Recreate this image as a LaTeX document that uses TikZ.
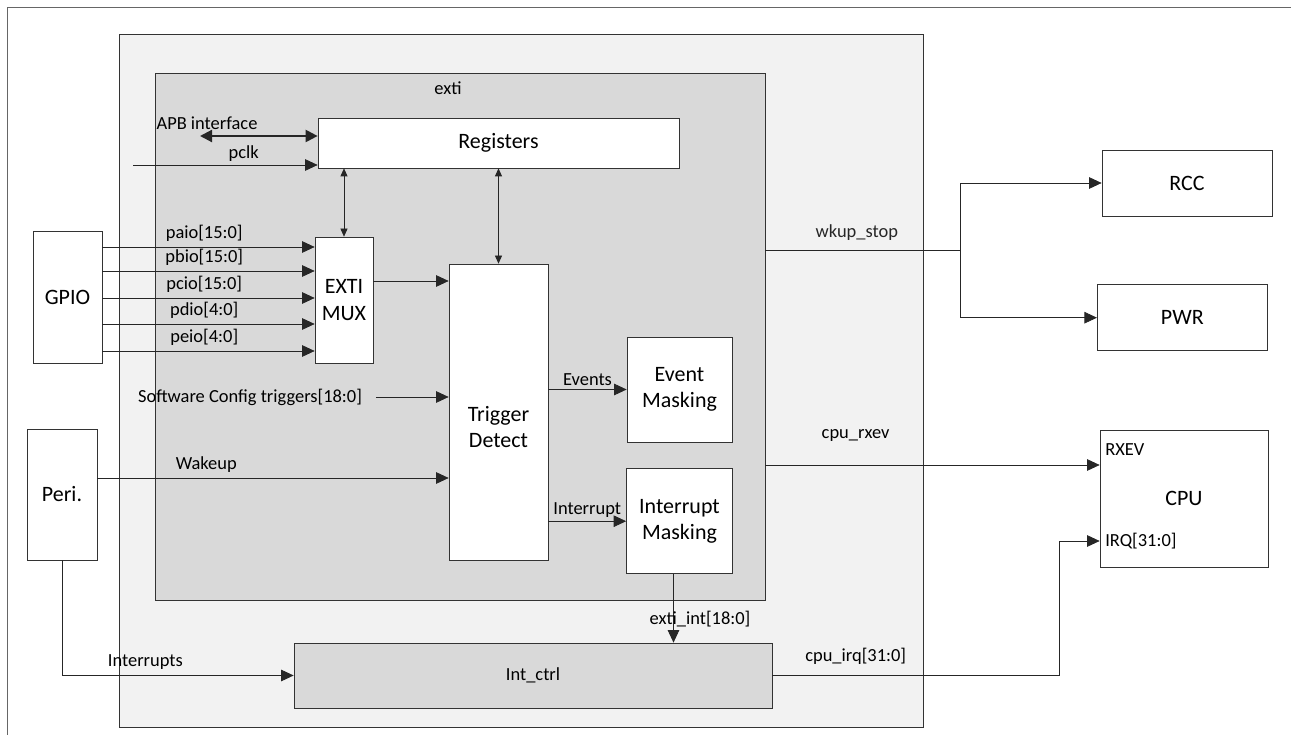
\documentclass[tikz,border=0pt]{standalone}
\usepackage{fontspec}
\setmainfont{Carlito}
\usetikzlibrary{positioning, arrows.meta}

\begin{document}
\begin{tikzpicture}[
		box/.style={rectangle, draw=black!80, fill=white, align=center, inner sep=1pt, font=\fontsize{12.5}{15}\selectfont},
		lbl/.style={inner sep=1pt, font=\fontsize{10.5}{12.5}\selectfont},
		sig/.style={draw=black!85, -{Triangle[length=2.5mm,width=2.3mm]}},
		bus/.style={draw=black!85, {Triangle[length=1.6mm,width=1.4mm]}-{Triangle[length=1.6mm,width=1.4mm]}}
	]
	\useasboundingbox (0,0) rectangle (25.82,-14.7);
	\draw[black!60] (0.14,-14.7) -- (0.14,-0.14) -- (25.82,-0.14);
	
	% containers
	\node[rectangle, draw=black!80, fill=black!5, minimum width=16.08cm, minimum height=13.86cm] (chip) at (10.42,-7.61) {};
	\node[rectangle, draw=black!80, fill=black!15, minimum width=12.2cm, minimum height=10.54cm] (exti) at (9.2,-6.73) {};
	\node[lbl] (extilbl) at (8.96,-1.76) {exti};
	
	% blocks inside exti
	\node[box, minimum width=7.22cm, minimum height=1cm] (reg) at (9.97,-2.86) {Registers};
	\node[box, minimum width=1.16cm, minimum height=2.52cm] (mux) at (6.88,-6.0) {EXTI\\MUX};
	\node[box, minimum width=1.98cm, minimum height=5.92cm] (trig) at (9.97,-8.24) {};
	\node[align=center, font=\fontsize{12.5}{15}\selectfont] (trigtxt) at (9.97,-8.54) {Trigger\\Detect};
	\node[box, minimum width=2.1cm, minimum height=2.1cm] (evm) at (13.59,-7.79) {Event\\Masking};
	\node[box, minimum width=2.12cm, minimum height=2.1cm, below=0.52cm of evm] (intm) {Interrupt\\Masking};
	\node[box, fill=black!15, font=\fontsize{10.5}{12.5}\selectfont, minimum width=9.56cm, minimum height=1.3cm] (intctrl) at (10.66,-13.51) {Int\_ctrl};
	
	% outside blocks
	\node[box, minimum width=1.38cm, minimum height=2.64cm] (gpio) at (1.35,-5.94) {GPIO};
	\node[box, minimum width=1.4cm, minimum height=2.62cm] (peri) at (1.24,-9.89) {Peri.};
	\node[box, minimum width=3.4cm, minimum height=1.32cm] (rcc) at (23.74,-3.66) {RCC};
	\node[box, minimum width=3.4cm, minimum height=1.32cm, below left=1.36cm and -3.32cm of rcc] (pwr) {PWR};
	\node[box, minimum width=3.36cm, minimum height=2.74cm] (cpu) at (23.68,-9.97) {CPU};
	\node[lbl, anchor=west] (rxev) at ([xshift=2pt]cpu.west |- 0,-9.0) {RXEV};
	\coordinate (irqin) at (cpu.west |- 0,-10.82);
	\node[lbl, anchor=west] (irq) at ([xshift=2pt]irqin) {IRQ[31:0]};
	
	% register interface
	\coordinate (apb) at (4.0,-2.72);
	\draw[bus, line width=1.2pt, {Triangle[length=2.4mm,width=2.4mm]}-{Triangle[length=2.4mm,width=2.4mm]}] (apb) -- (apb -| reg.west);
	\node[lbl] (apblbl) at (4.14,-2.47) {APB interface};
	\coordinate (pclkin) at (2.66,-3.3);
	\draw[sig] (pclkin) -- node[lbl, above=1pt, pos=0.6] {pclk} (pclkin -| reg.west);
	\draw[bus] (mux.north |- reg.south) -- (mux.north);
	\draw[bus] (reg.south) -- (trig.north);
	
	% gpio ports
	\foreach \yy/\txt in {-4.94/{paio[15:0]}, -5.42/{pbio[15:0]}, -5.96/{pcio[15:0]}, -6.48/{pdio[4:0]}, -7.02/{peio[4:0]}}
		\draw[sig] (gpio.east |- 0,\yy) -- node[lbl, above=2pt, pos=0.48] {\txt} (mux.west |- 0,\yy);
	
	\draw[sig] (mux.east |- 0,-5.62) -- (trig.west |- 0,-5.62);
	\node[lbl] (swcfg) at (5.0,-7.94) {Software Config triggers[18:0]};
	\draw[sig] ([xshift=0.24cm]swcfg.east) -- (swcfg.east -| trig.west);
	\draw[sig] (peri.east |- 0,-9.56) -- node[lbl, above=2pt, pos=0.31] {Wakeup} (trig.west |- 0,-9.56);
	
	\draw[sig] (trig.east |- evm.west) -- node[lbl, above=1pt] {Events} (evm.west);
	\draw[sig] (trig.east |- intm.west) -- node[lbl, above=1pt] {Interrupt} (intm.west);
	
	% interrupt path
	\coordinate (eint) at ([xshift=-0.12cm]intm.south);
	\draw[sig] (eint) -- (eint |- intctrl.north);
	\node[lbl] (eintlbl) at (14.0,-12.38) {exti\_int[18:0]};
	\draw[sig] (peri.south) |- node[lbl, above=2pt, pos=0.68] {Interrupts} (intctrl.west);
	\draw[sig] (intctrl.east) -| node[lbl, above=5pt, pos=0.145] {cpu\_irq[31:0]} ([xshift=-0.8cm]irqin) -- (irqin);
	
	% wakeup and event outputs
	\coordinate (wk) at (exti.east |- 0,-5.0);
	\coordinate (br) at (19.2,-5.0);
	\draw[black!85] (wk) -- node[lbl, above=4pt, pos=0.47] {wkup\_stop} (br);
	\draw[sig] (br) |- (rcc.west);
	\draw[sig] (br) |- (pwr.west);
	\draw[sig] (exti.east |- 0,-9.3) -- node[lbl, above=12pt, pos=0.27] {cpu\_rxev} (cpu.west |- 0,-9.3);
\end{tikzpicture}
\end{document}
